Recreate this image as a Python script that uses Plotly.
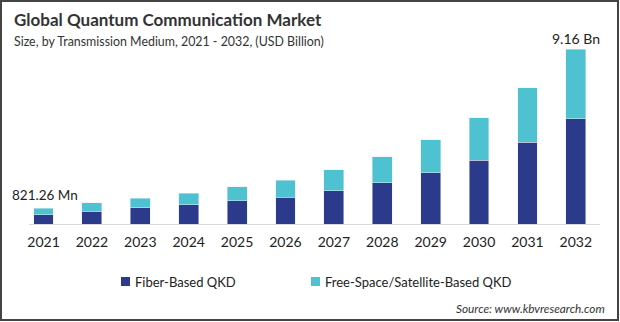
import plotly.graph_objects as go

years = ["2021", "2022", "2023", "2024", "2025", "2026", "2027", "2028", "2029", "2030", "2031", "2032"]
fiber = [0.49, 0.68, 0.84, 1.01, 1.22, 1.41, 1.73, 2.15, 2.67, 3.35, 4.29, 5.50]
free_space = [0.33, 0.42, 0.52, 0.61, 0.73, 0.89, 1.10, 1.36, 1.73, 2.20, 2.83, 3.66]
series_names = ["Fiber-Based QKD", "Free-Space/Satellite-Based QKD"]
totals = [round(a + b, 2) for a, b in zip(fiber, free_space)]
first_label = "821.26 Mn"
last_label = "9.16 Bn"

DARK = "#2c3a8c"
LIGHT = "#4ec2d0"
FONT = "Lato"
TXT = "#222222"

W, H = 620, 322
ML, MR, MT, MB = 29, 20, 40, 98
PW, PH = W - ML - MR, H - MT - MB

def px(x):
    return (x - ML) / PW

def py(y):
    return (H - MB - y) / PH

fig = go.Figure()
fig.add_trace(go.Bar(x=years, y=fiber, name=series_names[0], marker_color=DARK, width=0.41))
fig.add_trace(go.Bar(x=years, y=free_space, name=series_names[1], marker_color=LIGHT, width=0.41))

fig.update_layout(
    barmode="stack",
    width=W, height=H,
    margin=dict(l=ML, r=MR, t=MT, b=MB),
    paper_bgcolor="white", plot_bgcolor="white",
    font=dict(family=FONT, color=TXT),
    showlegend=False,
    xaxis=dict(type="category", range=[-0.3, 11.5], showline=True, linecolor="#d9d9d9", linewidth=1,
               showgrid=False, ticks="outside", ticklen=5, tickcolor="rgba(0,0,0,0)",
               tickfont=dict(size=14, color=TXT), fixedrange=True),
    yaxis=dict(range=[0, PH / (175 / 9.16)], visible=False, showgrid=False, zeroline=False),
)

fig.add_annotation(x=0, y=totals[0], text=first_label, showarrow=False, xanchor="center",
                   yanchor="bottom", yshift=3, xshift=1, font=dict(size=13.5, color=TXT))
fig.add_annotation(x=len(years) - 1, y=totals[-1], text=last_label, showarrow=False, xanchor="center",
                   yanchor="bottom", yshift=0, font=dict(size=14, color=TXT))

# legend (squares + labels)
legend_x = [121, 311]
for name, col, lx in zip(series_names, [DARK, LIGHT], legend_x):
    fig.add_shape(type="rect", xref="paper", yref="paper", x0=px(lx), x1=px(lx + 9),
                  y0=py(286), y1=py(277), fillcolor=col, line=dict(width=0))
    fig.add_annotation(xref="paper", yref="paper", x=px(lx + 12), y=py(281.5), xanchor="left",
                       yanchor="middle", text=name, showarrow=False, font=dict(size=13, color=TXT))

fig.add_annotation(xref="paper", yref="paper", x=px(12), y=py(20), xanchor="left", yanchor="middle",
                   text="<b>Global Quantum Communication Market</b>", showarrow=False,
                   font=dict(size=17, color="#333333"))
fig.add_annotation(xref="paper", yref="paper", x=px(12), y=py(41), xanchor="left", yanchor="middle",
                   text="Size, by Transmission Medium, 2021 - 2032, (USD Billion)", showarrow=False,
                   font=dict(size=12.4, color="#333333"))
fig.add_annotation(xref="paper", yref="paper", x=px(607), y=py(308), xanchor="right", yanchor="middle",
                   text="<i>Source: www.kbvresearch.com</i>", showarrow=False,
                   font=dict(size=11.8, color="#333333"))

fig.add_shape(type="rect", xref="paper", yref="paper", x0=px(1), x1=px(618), y0=py(320), y1=py(1),
              line=dict(color="#444444", width=2), fillcolor="rgba(0,0,0,0)", layer="above")

fig.write_html("out.html")
